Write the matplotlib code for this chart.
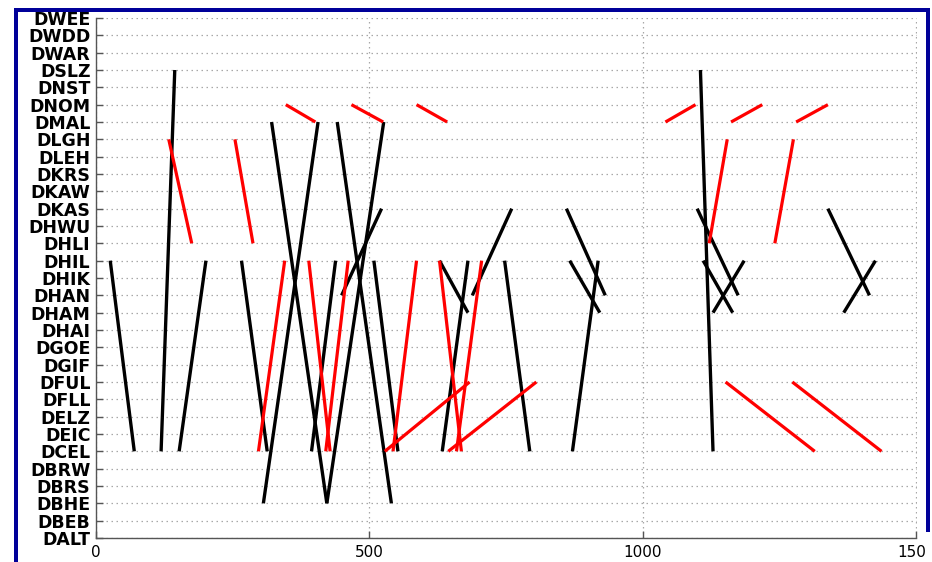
import matplotlib
matplotlib.use("Agg")
import matplotlib.pyplot as plt
from matplotlib.patches import Rectangle

stations = ['DALT', 'DBEB', 'DBHE', 'DBRS', 'DBRW', 'DCEL', 'DEIC', 'DELZ', 'DFLL',
            'DFUL', 'DGIF', 'DGOE', 'DHAI', 'DHAM', 'DHAN', 'DHIK', 'DHIL', 'DHLI',
            'DHWU', 'DKAS', 'DKAW', 'DKRS', 'DLEH', 'DLGH', 'DMAL', 'DNOM', 'DNST',
            'DSLZ', 'DWAR', 'DWDD', 'DWEE']

# black segments: start time, start station, end time, end station
black_t0 = [26, 144, 201, 266, 321, 406, 441, 526, 438, 508, 449, 628, 680, 760,
            747, 860, 866, 871, 1105, 1099, 1110, 1185, 1338, 1425]
black_s0 = ['DHIL', 'DSLZ', 'DHIL', 'DHIL', 'DMAL', 'DMAL', 'DMAL', 'DMAL', 'DHIL',
            'DHIL', 'DHAN', 'DHIL', 'DHIL', 'DKAS', 'DHIL', 'DKAS', 'DHIL', 'DCEL',
            'DSLZ', 'DKAS', 'DHIL', 'DHIL', 'DKAS', 'DHIL']
black_t1 = [70, 119, 152, 313, 422, 306, 540, 422, 394, 552, 522, 680, 633, 688,
            793, 931, 921, 918, 1128, 1174, 1164, 1128, 1414, 1367]
black_s1 = ['DCEL', 'DCEL', 'DCEL', 'DCEL', 'DBHE', 'DBHE', 'DBHE', 'DBHE', 'DCEL',
            'DCEL', 'DKAS', 'DHAM', 'DCEL', 'DHAN', 'DCEL', 'DHAN', 'DHAM', 'DHIL',
            'DCEL', 'DHAN', 'DHAM', 'DHAM', 'DHAN', 'DHAM']

# red segments
red_t0 = [133, 254, 347, 467, 586, 345, 389, 461, 586, 628, 705, 528, 644,
          1041, 1161, 1280, 1154, 1275, 1151, 1273]
red_s0 = ['DLGH', 'DLGH', 'DNOM', 'DNOM', 'DNOM', 'DHIL', 'DHIL', 'DHIL', 'DHIL',
          'DHIL', 'DHIL', 'DCEL', 'DCEL', 'DMAL', 'DMAL', 'DMAL', 'DLGH', 'DLGH',
          'DFUL', 'DFUL']
red_t1 = [175, 287, 401, 525, 642, 297, 428, 420, 543, 668, 659, 683, 805,
          1096, 1218, 1338, 1121, 1241, 1314, 1436]
red_s1 = ['DHLI', 'DHLI', 'DMAL', 'DMAL', 'DMAL', 'DCEL', 'DCEL', 'DCEL', 'DCEL',
          'DCEL', 'DCEL', 'DFUL', 'DFUL', 'DNOM', 'DNOM', 'DNOM', 'DHLI', 'DHLI',
          'DCEL', 'DCEL']

x_ticks = [0, 500, 1000, 1500]

W, H = 932, 562
fig = plt.figure(figsize=(W / 100, H / 100), dpi=100)
fig.patch.set_facecolor('white')

ax = fig.add_axes([96 / W, 1 - 538 / H, (916.5 - 96) / W, (538 - 18) / H])
pos = {s: i for i, s in enumerate(stations)}

for t0, s0, t1, s1 in zip(black_t0, black_s0, black_t1, black_s1):
    ax.plot([t0, t1], [pos[s0], pos[s1]], color='black', lw=2.4,
            solid_capstyle='butt', zorder=3)
for t0, s0, t1, s1 in zip(red_t0, red_s0, red_t1, red_s1):
    ax.plot([t0, t1], [pos[s0], pos[s1]], color='red', lw=2.3,
            solid_capstyle='butt', zorder=3)

ax.set_xlim(0, 1500)
ax.set_ylim(0, len(stations) - 1)
ax.set_xticks(x_ticks)
ax.set_xticklabels([str(v) for v in x_ticks])
ax.set_yticks(range(len(stations)))
ax.set_yticklabels(stations)

for sp in ['top', 'right']:
    ax.spines[sp].set_visible(False)
for sp in ['left', 'bottom']:
    ax.spines[sp].set_color('#555555')
    ax.spines[sp].set_linewidth(1.0)

ax.tick_params(axis='both', direction='in', length=5, width=1.0, color='#555555')
ax.tick_params(axis='y', pad=4, labelsize=12.5)
ax.tick_params(axis='x', pad=5, labelsize=11)
for lab in ax.get_yticklabels():
    lab.set_family('DejaVu Sans')
    lab.set_fontweight('bold')
for lab in ax.get_xticklabels():
    lab.set_family('DejaVu Sans')

ax.grid(True, color='#a8a8a8', linestyle=(0, (1.2, 2.8)), linewidth=0.9, zorder=0)
ax.set_axisbelow(True)

# blue frame around the figure
blue = '#000099'
fig.patches.append(Rectangle((14 / W, 0), 4 / W, 1 - 8 / H, transform=fig.transFigure,
                             facecolor=blue, edgecolor='none', zorder=10))
fig.patches.append(Rectangle((14 / W, 1 - 12 / H), (930 - 14) / W, 4 / H,
                             transform=fig.transFigure, facecolor=blue,
                             edgecolor='none', zorder=10))
fig.patches.append(Rectangle((925.5 / W, 1 - 532 / H), 4.5 / W, (532 - 8) / H,
                             transform=fig.transFigure, facecolor=blue,
                             edgecolor='none', zorder=10))
# white strip clipping the right edge below the frame
fig.add_artist(Rectangle((925.5 / W, 0), (W - 925.5) / W, 1 - 532 / H,
                         transform=fig.transFigure, facecolor='white',
                         edgecolor='none', zorder=20))

fig.savefig('out.png', dpi=100, facecolor='white')
